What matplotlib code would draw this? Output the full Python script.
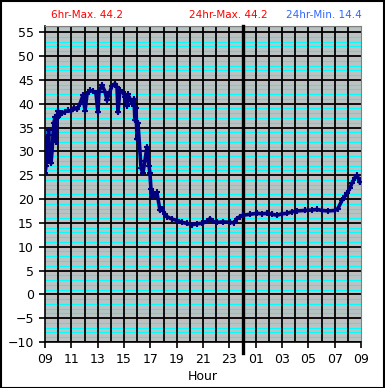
import matplotlib
matplotlib.use("Agg")
import matplotlib.pyplot as plt
from matplotlib.patches import Rectangle

# hours after 09:00 and temperature readings
hours = [0.00, 0.08, 0.15, 0.23, 0.27, 0.30, 0.38, 0.46, 0.53, 0.61, 0.68, 0.76, 0.84, 0.91,
         0.99, 1.14, 1.29, 1.52, 1.75, 1.97, 2.20, 2.43, 2.66, 2.89, 3.04, 3.19, 3.42, 3.64,
         3.87, 4.02, 4.10, 4.33, 4.56, 4.71, 4.86, 5.09, 5.32, 5.47, 5.54, 5.69, 5.92, 6.07,
         6.23, 6.30, 6.45, 6.61, 6.76, 6.83, 6.91, 6.99, 7.06, 7.21, 7.29, 7.44, 7.59, 7.74,
         7.90, 7.97, 8.05, 8.12, 8.20, 8.35, 8.50, 8.73, 8.88, 9.11, 9.26, 9.64, 10.02, 10.40,
         10.78, 11.16, 11.54, 11.92, 12.30, 12.53, 12.76, 13.06, 13.52, 14.05, 14.35, 14.58,
         14.81, 15.03, 15.57, 16.10, 16.48, 16.86, 17.24, 17.62, 18.00, 18.38, 18.75, 19.13,
         19.74, 20.27, 20.65, 21.03, 21.49, 22.02, 22.25, 22.55, 22.78, 22.93, 23.16, 23.31,
         23.54, 23.69, 23.77, 23.92]
temps = [25.5, 27.0, 33.0, 28.0, 34.4, 29.0, 31.0, 27.5, 30.0, 33.5, 36.0, 37.2, 32.0, 37.0,
         38.5, 37.6, 38.0, 38.3, 38.6, 38.4, 39.2, 38.8, 40.0, 41.8, 38.5, 42.0, 42.8, 42.6,
         42.2, 38.2, 42.5, 43.9, 42.5, 40.7, 42.0, 43.8, 44.2, 43.5, 38.2, 42.8, 42.4, 41.5,
         39.5, 42.0, 41.0, 40.0, 41.0, 36.5, 39.0, 32.5, 36.0, 30.0, 26.5, 25.5, 28.0, 30.9,
         27.0, 25.4, 22.0, 20.4, 21.2, 20.8, 21.4, 17.6, 18.0, 16.8, 16.3, 15.8, 15.5, 15.1,
         14.9, 14.6, 14.8, 14.9, 15.3, 15.9, 15.3, 15.1, 15.2, 15.1, 15.0, 15.9,
         16.3, 16.6, 16.8, 17.0, 16.9, 17.0, 16.8, 16.6, 16.9, 17.0, 17.3, 17.5,
         17.6, 17.7, 17.8, 17.6, 17.5, 17.6, 18.0, 19.7, 20.6, 21.2, 22.3, 23.3,
         24.5, 25.0, 24.5, 23.5]

tick_hours = list(range(0, 25, 2))
tick_labels = ["%02d" % ((9 + h) % 24) for h in tick_hours]
y_ticks = list(range(-10, 56, 5))

header = [("6hr-Max. 44.2", "#FF0000", 87), ("24hr-Max. 44.2", "#FF0000", 228),
          ("24hr-Min. 14.4", "#3366FF", 324)]

plt.rcParams["font.family"] = ["DejaVu Sans"]

W, H = 385, 388
fig = plt.figure(figsize=(W / 100, H / 100), dpi=100)
ax = fig.add_axes([45 / W, (H - 342) / H, 316 / W, 316 / H])
ax.set_facecolor("#C0C0C0")
ax.set_xlim(0, 24)
ax.set_ylim(-10, 56.3)

# cyan minor lines every degree, black major lines every 5
for v in range(-9, 57):
    if v % 5:
        ax.axhline(v, color="#00FFFF", lw=0.8, zorder=1)
for v in y_ticks:
    ax.axhline(v, color="black", lw=1.3, zorder=2)
for h in range(1, 24):
    ax.axvline(h, color="black", lw=1.3, zorder=2)

# midnight marker
ax.axvline(15, ymin=-0.035, ymax=1, color="black", lw=2.4, zorder=3, clip_on=False)

ax.plot(hours, temps, color="#000080", lw=2.6, marker="+", ms=4, mew=1.5, zorder=4)

ax.set_xticks(tick_hours)
ax.set_xticklabels(tick_labels)
ax.set_yticks(y_ticks)
ax.tick_params(direction="out", length=4, width=1.2, labelsize=9, pad=4, colors="black")
ax.set_xlabel("Hour", fontsize=9, labelpad=3)

for side in ["top", "right"]:
    ax.spines[side].set_color("#808080")
for side in ["left", "bottom"]:
    ax.spines[side].set_color("black")
    ax.spines[side].set_linewidth(1.2)

for txt, col, xc in header:
    fig.text(xc / W, 1 - 15 / H, txt, color=col, fontsize=7.5, ha="center", va="center")

fig.patches.append(Rectangle((0.5 / W, 0.5 / H), 1 - 1.5 / W, 1 - 1.5 / H,
                             transform=fig.transFigure, fill=False, ec="black", lw=1.5))

fig.savefig("out.png", dpi=100)
